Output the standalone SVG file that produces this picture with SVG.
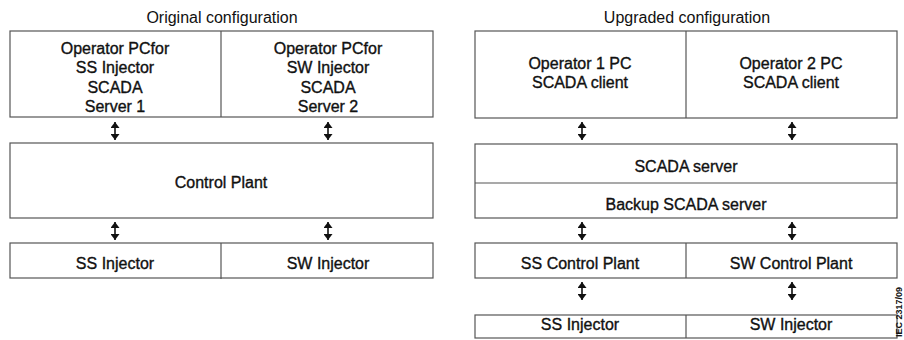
<svg xmlns="http://www.w3.org/2000/svg" width="904" height="340" viewBox="0 0 904 340">
<style>
  .box { fill: #fff; stroke: #555; stroke-width: 1.2; }
  .div { stroke: #555; stroke-width: 1.2; }
  text { font-family: "Liberation Sans", Arial, sans-serif; font-size: 16px; fill: #111; text-anchor: middle; dominant-baseline: central; }
  .lbl { stroke: #111; stroke-width: 0.35; }
  .conn { stroke: #111; stroke-width: 1.6; marker-start: url(#ah); marker-end: url(#ah); }
  .tag { font-size: 9px; font-weight: bold; }
</style>
<defs>
  <marker id="ah" viewBox="0 0 6 9" refX="6" refY="4.5" markerWidth="6" markerHeight="9" orient="auto-start-reverse" markerUnits="userSpaceOnUse">
    <path d="M0,0 L6,4.5 L0,9 Z" fill="#111"/>
  </marker>
</defs>
<rect width="904" height="340" fill="#fff"/>

<text x="222" y="17">Original configuration</text>
<text x="687" y="17">Upgraded configuration</text>

<g id="orig-operators">
  <rect class="box" x="10" y="31" width="423" height="86"/>
  <line class="div" x1="221" y1="31" x2="221" y2="117"/>
  <text class="lbl" x="115" y="48">Operator PCfor</text>
  <text class="lbl" x="115" y="67">SS Injector</text>
  <text class="lbl" x="115" y="87">SCADA</text>
  <text class="lbl" x="115" y="106">Server 1</text>
  <text class="lbl" x="328" y="48">Operator PCfor</text>
  <text class="lbl" x="328" y="67">SW Injector</text>
  <text class="lbl" x="328" y="87">SCADA</text>
  <text class="lbl" x="328" y="106">Server 2</text>
</g>
<g id="orig-control">
  <rect class="box" x="10" y="143" width="423" height="75"/>
  <text class="lbl" x="221" y="182">Control Plant</text>
</g>
<g id="orig-injectors">
  <rect class="box" x="10" y="243" width="423" height="35"/>
  <line class="div" x1="221" y1="243" x2="221" y2="279"/>
  <text class="lbl" x="115" y="263">SS Injector</text>
  <text class="lbl" x="328" y="263">SW Injector</text>
</g>

<g id="up-operators">
  <rect class="box" x="475" y="31" width="422" height="87"/>
  <line class="div" x1="686" y1="31" x2="686" y2="118"/>
  <text class="lbl" x="580" y="63">Operator 1 PC</text>
  <text class="lbl" x="580" y="82">SCADA client</text>
  <text class="lbl" x="791" y="63">Operator 2 PC</text>
  <text class="lbl" x="791" y="82">SCADA client</text>
</g>
<g id="up-servers">
  <rect class="box" x="475" y="144" width="422" height="74"/>
  <line class="div" x1="475" y1="183" x2="897" y2="183"/>
  <text class="lbl" x="686" y="166">SCADA server</text>
  <text class="lbl" x="686" y="204">Backup SCADA server</text>
</g>
<g id="up-control">
  <rect class="box" x="475" y="243" width="422" height="35"/>
  <line class="div" x1="686" y1="243" x2="686" y2="278"/>
  <text class="lbl" x="580" y="263">SS Control Plant</text>
  <text class="lbl" x="791" y="263">SW Control Plant</text>
</g>
<g id="up-injectors">
  <rect class="box" x="475" y="315" width="422" height="23"/>
  <line class="div" x1="686" y1="315" x2="686" y2="338"/>
  <text class="lbl" x="580" y="324">SS Injector</text>
  <text class="lbl" x="791" y="324">SW Injector</text>
</g>

<g id="connectors">
  <line class="conn" x1="115" y1="122" x2="115" y2="140"/>
  <line class="conn" x1="328" y1="122" x2="328" y2="140"/>
  <line class="conn" x1="115" y1="222" x2="115" y2="240"/>
  <line class="conn" x1="328" y1="222" x2="328" y2="240"/>
  <line class="conn" x1="582" y1="122" x2="582" y2="140"/>
  <line class="conn" x1="792" y1="122" x2="792" y2="140"/>
  <line class="conn" x1="582" y1="222" x2="582" y2="240"/>
  <line class="conn" x1="792" y1="222" x2="792" y2="240"/>
  <line class="conn" x1="582" y1="282" x2="582" y2="300"/>
  <line class="conn" x1="792" y1="282" x2="792" y2="300"/>
</g>

<text class="tag" transform="translate(899,312) rotate(-90)">IEC 2317/09</text>
</svg>
